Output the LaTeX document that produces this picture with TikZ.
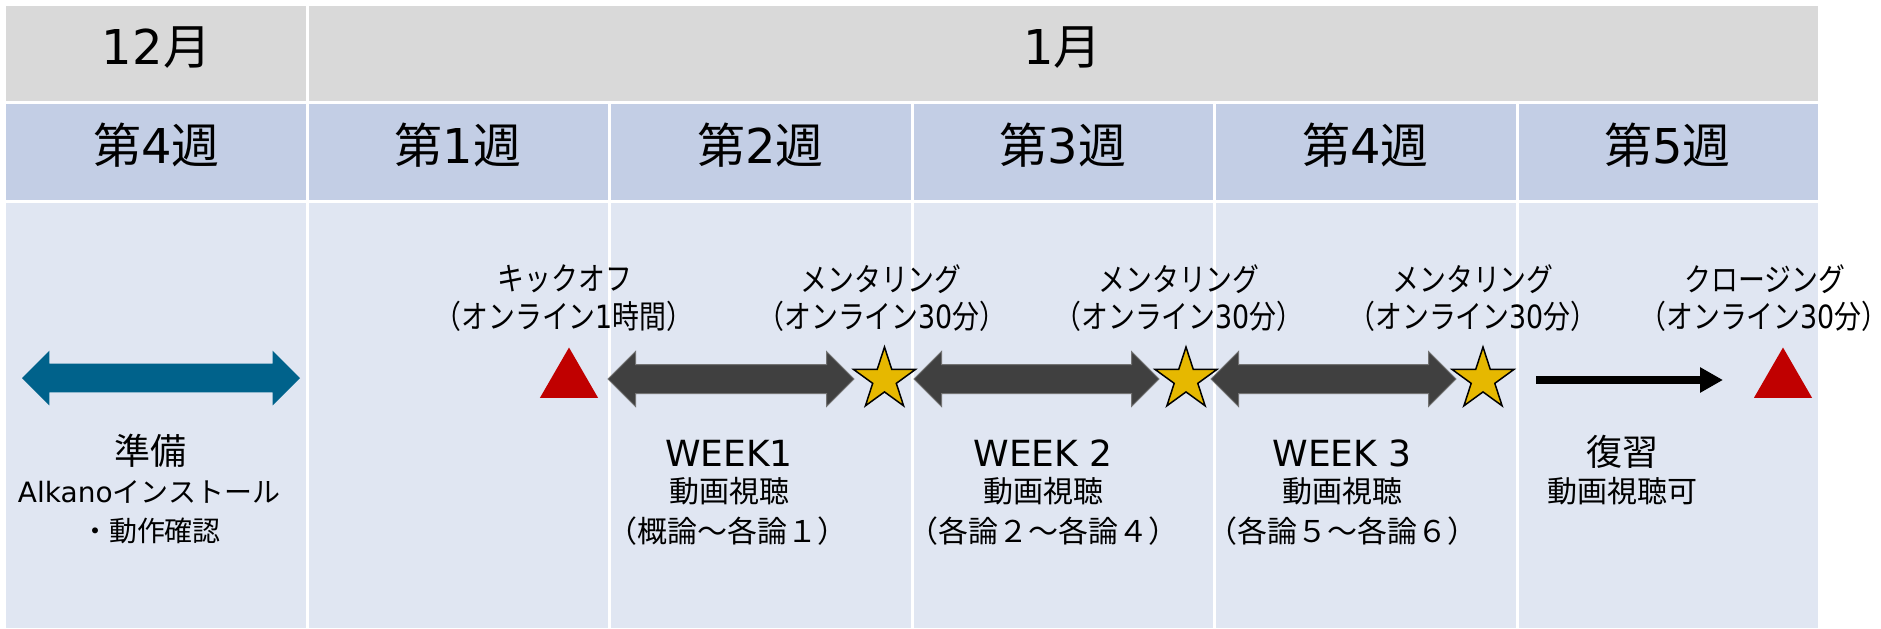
\documentclass[tikz,border=0pt]{standalone}
\usepackage{fontspec}
\setmainfont{Noto Sans CJK JP}
\newfontfamily\lat{DejaVu Sans}
\newfontfamily\cjkn{Noto Sans CJK JP}[FakeStretch=0.84]
\newfontfamily\latn{DejaVu Sans}[FakeStretch=0.84]
\usetikzlibrary{shapes.geometric,shapes.arrows,arrows.meta}
\definecolor{rowA}{HTML}{D9D9D9}
\definecolor{rowB}{HTML}{C3CEE5}
\definecolor{rowC}{HTML}{E0E6F2}
\definecolor{tealA}{HTML}{00628B}
\definecolor{darkA}{HTML}{404040}
\definecolor{starA}{HTML}{E6B800}
\definecolor{redA}{HTML}{C00000}
\begin{document}
\begin{tikzpicture}[x=0.5pt,y=-0.5pt,
  hdr/.style={font=\fontsize{24}{28}\selectfont, inner sep=0pt},
  big/.style={font=\fontsize{18}{21}\selectfont, inner sep=0pt},
  txt/.style={font=\fontsize{15}{18}\selectfont, inner sep=0pt},
  lbl/.style={font=\cjkn\fontsize{16}{18}\selectfont, inner sep=0pt},
  sep/.style={white, line width=1.5pt},
  dblarr/.style={double arrow, double arrow head extend=6.5pt, inner sep=7pt,
    minimum height=#1, anchor=center},
  darkarr/.style={dblarr=#1, fill=darkA, draw=black!55, line width=0.5pt},
  starmark/.style={star, star points=5, star point ratio=2.618, minimum size=32.5pt,
    inner sep=0pt, fill=starA, draw=black, line width=0.75pt},
  tri/.style={regular polygon, regular polygon sides=3, minimum size=33.5pt,
    inner sep=0pt, fill=redA}
]
\useasboundingbox (0,0) rectangle (1881,628);
\fill[white] (0,0) rectangle (1881,628);
% table
\fill[rowA] (6,6) rectangle (1818,102);
\fill[rowB] (6,102) rectangle (1818,202);
\fill[rowC] (6,202) rectangle (1818,628);
\draw[sep] (6,102.2) -- (1818,102.2) (6,201.2) -- (1818,201.2);
\draw[sep] (307,6) -- (307,628);
\foreach \x in {609,912,1214,1517} \draw[sep] (\x,102) -- (\x,628);
% month headers
\node[hdr] (m12) at (156.5,48) {{\lat 12}月};
\node[hdr] (m1) at (1062.5,48) {{\lat 1}月};
% week headers
\node[hdr] (w0) at (156.5,145) {第{\lat 4}週};
\node[hdr] (w1) at (458,145) {第{\lat 1}週};
\node[hdr] (w2) at (760.5,145) {第{\lat 2}週};
\node[hdr] (w3) at (1063,145) {第{\lat 3}週};
\node[hdr] (w4) at (1365.5,145) {第{\lat 4}週};
\node[hdr] (w5) at (1667.5,145) {第{\lat 5}週};
% preparation
\node[dblarr=139pt, fill=tealA] (prep) at (161,378) {};
\node[big] (prepA) at (150,451) {準備};
\node[lbl,font=\fontsize{14}{16}\selectfont] (prepB) at (149,492) {{\lat Alkano}インストール};
\node[lbl,font=\fontsize{14}{16}\selectfont] (prepC) at (151,531) {・動作確認};
% kickoff
\node[tri] (ko) at (569,381) {};
\node[lbl] (koA) at (565,279) {キックオフ};
\node[lbl] (koB) at (564,316) {（オンライン{\latn 1}時間）};
% week arrows
\node[darkarr=123pt] (a1) at (731,379) {};
\node[darkarr=122.5pt] (a2) at (1036.5,379) {};
\node[darkarr=122.5pt] (a3) at (1333.5,379) {};
% stars
\node[starmark] (s1) at (884.5,379.5) {};
\node[starmark] (s2) at (1186,379.5) {};
\node[starmark] (s3) at (1483,379.5) {};
% mentoring labels
\node[lbl] (m1A) at (881,279) {メンタリング};
\node[lbl] (m1B) at (882,316) {（オンライン{\latn 30}分）};
\node[lbl] (m2A) at (1179,279) {メンタリング};
\node[lbl] (m2B) at (1179,316) {（オンライン{\latn 30}分）};
\node[lbl] (m3A) at (1473,279) {メンタリング};
\node[lbl] (m3B) at (1473,316) {（オンライン{\latn 30}分）};
% review arrow and closing
\coordinate (r0) at (1536,380);
\coordinate (r1) at (1723,380);
\draw[line width=4pt, -{Triangle[length=11.5pt,width=12pt]}] (r0) -- (r1);
\node[tri] (cl) at (1783,381) {};
\node[lbl] (clA) at (1765,279) {クロージング};
\node[lbl] (clB) at (1764,316) {（オンライン{\latn 30}分）};
% week texts
\node[big] (k1A) at (729,453) {\lat WEEK1};
\node[txt] (k1B) at (729,491) {動画視聴};
\node[txt] (k1C) at (727,531) {（概論～各論１）};
\node[big] (k2A) at (1043,453) {\lat WEEK 2};
\node[txt] (k2B) at (1043,491) {動画視聴};
\node[txt] (k2C) at (1043,531) {（各論２～各論４）};
\node[big] (k3A) at (1342,453) {\lat WEEK 3};
\node[txt] (k3B) at (1342,491) {動画視聴};
\node[txt] (k3C) at (1342,531) {（各論５～各論６）};
\node[big] (rvA) at (1622,452) {復習};
\node[txt] (rvB) at (1622,491) {動画視聴可};
\end{tikzpicture}
\end{document}
